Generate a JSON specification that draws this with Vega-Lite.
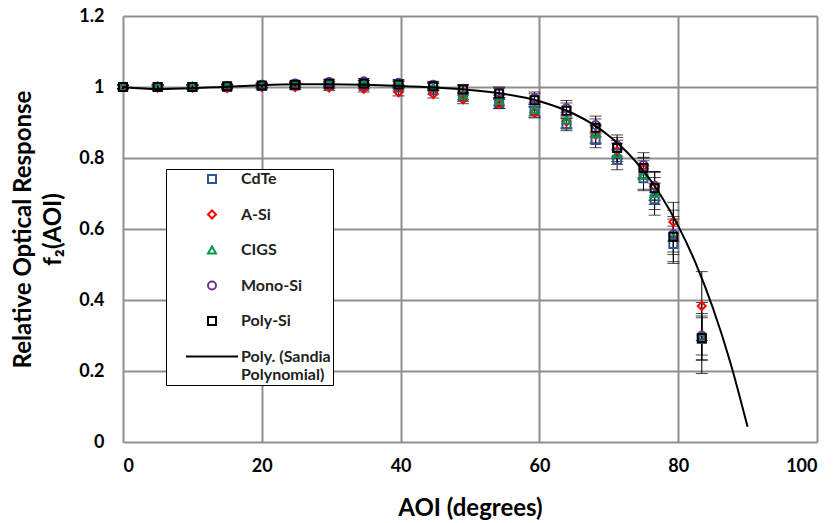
{
  "$schema": "https://vega.github.io/schema/vega-lite/v6.json",
  "width": 694,
  "height": 426,
  "autosize": {"type": "none"},
  "padding": {"left": 123, "top": 16, "right": 19, "bottom": 81},
  "background": "white",
  "config": {"font": "Lato", "view": {"stroke": null}},
  "datasets": {
    "meas": [
      {"aoi": 0, "series": "CdTe", "value": 1.0, "err": 0.005},
      {"aoi": 5, "series": "CdTe", "value": 1.0, "err": 0.005},
      {"aoi": 10, "series": "CdTe", "value": 1.0, "err": 0.005},
      {"aoi": 15, "series": "CdTe", "value": 1.0, "err": 0.005},
      {"aoi": 20, "series": "CdTe", "value": 1.003, "err": 0.006},
      {"aoi": 24.8, "series": "CdTe", "value": 1.004, "err": 0.007},
      {"aoi": 29.7, "series": "CdTe", "value": 1.004, "err": 0.008},
      {"aoi": 34.7, "series": "CdTe", "value": 1.003, "err": 0.008},
      {"aoi": 39.7, "series": "CdTe", "value": 0.998, "err": 0.009},
      {"aoi": 44.7, "series": "CdTe", "value": 0.99, "err": 0.01},
      {"aoi": 49, "series": "CdTe", "value": 0.972, "err": 0.012},
      {"aoi": 54.2, "series": "CdTe", "value": 0.955, "err": 0.015},
      {"aoi": 59.3, "series": "CdTe", "value": 0.933, "err": 0.018},
      {"aoi": 63.9, "series": "CdTe", "value": 0.895, "err": 0.018},
      {"aoi": 68.1, "series": "CdTe", "value": 0.851, "err": 0.022},
      {"aoi": 71.2, "series": "CdTe", "value": 0.795, "err": 0.028},
      {"aoi": 75.0, "series": "CdTe", "value": 0.743, "err": 0.035},
      {"aoi": 76.6, "series": "CdTe", "value": 0.684, "err": 0.045},
      {"aoi": 79.3, "series": "CdTe", "value": 0.558, "err": 0.05},
      {"aoi": 83.4, "series": "CdTe", "value": 0.29, "err": 0.06},
      {"aoi": 0, "series": "A-Si", "value": 1.0, "err": 0.005},
      {"aoi": 5, "series": "A-Si", "value": 0.998, "err": 0.005},
      {"aoi": 10, "series": "A-Si", "value": 0.998, "err": 0.005},
      {"aoi": 15, "series": "A-Si", "value": 0.997, "err": 0.005},
      {"aoi": 20, "series": "A-Si", "value": 1.0, "err": 0.006},
      {"aoi": 24.8, "series": "A-Si", "value": 1.0, "err": 0.007},
      {"aoi": 29.7, "series": "A-Si", "value": 0.998, "err": 0.008},
      {"aoi": 34.7, "series": "A-Si", "value": 0.995, "err": 0.009},
      {"aoi": 39.7, "series": "A-Si", "value": 0.985, "err": 0.01},
      {"aoi": 44.7, "series": "A-Si", "value": 0.98, "err": 0.011},
      {"aoi": 49, "series": "A-Si", "value": 0.965, "err": 0.012},
      {"aoi": 54.2, "series": "A-Si", "value": 0.952, "err": 0.013},
      {"aoi": 59.3, "series": "A-Si", "value": 0.928, "err": 0.015},
      {"aoi": 63.9, "series": "A-Si", "value": 0.902, "err": 0.02},
      {"aoi": 68.1, "series": "A-Si", "value": 0.865, "err": 0.025},
      {"aoi": 71.2, "series": "A-Si", "value": 0.82, "err": 0.03},
      {"aoi": 75.0, "series": "A-Si", "value": 0.77, "err": 0.03},
      {"aoi": 76.6, "series": "A-Si", "value": 0.72, "err": 0.04},
      {"aoi": 79.3, "series": "A-Si", "value": 0.62, "err": 0.055},
      {"aoi": 83.4, "series": "A-Si", "value": 0.383, "err": 0.097},
      {"aoi": 0, "series": "CIGS", "value": 1.0, "err": 0.005},
      {"aoi": 5, "series": "CIGS", "value": 1.002, "err": 0.005},
      {"aoi": 10, "series": "CIGS", "value": 1.002, "err": 0.005},
      {"aoi": 15, "series": "CIGS", "value": 1.003, "err": 0.005},
      {"aoi": 20, "series": "CIGS", "value": 1.005, "err": 0.006},
      {"aoi": 24.8, "series": "CIGS", "value": 1.007, "err": 0.007},
      {"aoi": 29.7, "series": "CIGS", "value": 1.008, "err": 0.008},
      {"aoi": 34.7, "series": "CIGS", "value": 1.01, "err": 0.008},
      {"aoi": 39.7, "series": "CIGS", "value": 1.008, "err": 0.009},
      {"aoi": 44.7, "series": "CIGS", "value": 1.0, "err": 0.01},
      {"aoi": 49, "series": "CIGS", "value": 0.977, "err": 0.012},
      {"aoi": 54.2, "series": "CIGS", "value": 0.962, "err": 0.015},
      {"aoi": 59.3, "series": "CIGS", "value": 0.937, "err": 0.018},
      {"aoi": 63.9, "series": "CIGS", "value": 0.907, "err": 0.022},
      {"aoi": 68.1, "series": "CIGS", "value": 0.868, "err": 0.025},
      {"aoi": 71.2, "series": "CIGS", "value": 0.812, "err": 0.03},
      {"aoi": 75.0, "series": "CIGS", "value": 0.752, "err": 0.04},
      {"aoi": 76.6, "series": "CIGS", "value": 0.7, "err": 0.045},
      {"aoi": 79.3, "series": "CIGS", "value": 0.578, "err": 0.05},
      {"aoi": 83.4, "series": "CIGS", "value": 0.297, "err": 0.065},
      {"aoi": 0, "series": "Mono-Si", "value": 1.0, "err": 0.005},
      {"aoi": 5, "series": "Mono-Si", "value": 1.001, "err": 0.005},
      {"aoi": 10, "series": "Mono-Si", "value": 1.0, "err": 0.005},
      {"aoi": 15, "series": "Mono-Si", "value": 1.003, "err": 0.005},
      {"aoi": 20, "series": "Mono-Si", "value": 1.006, "err": 0.006},
      {"aoi": 24.8, "series": "Mono-Si", "value": 1.01, "err": 0.007},
      {"aoi": 29.7, "series": "Mono-Si", "value": 1.014, "err": 0.008},
      {"aoi": 34.7, "series": "Mono-Si", "value": 1.016, "err": 0.008},
      {"aoi": 39.7, "series": "Mono-Si", "value": 1.012, "err": 0.009},
      {"aoi": 44.7, "series": "Mono-Si", "value": 1.006, "err": 0.01},
      {"aoi": 49, "series": "Mono-Si", "value": 0.995, "err": 0.012},
      {"aoi": 54.2, "series": "Mono-Si", "value": 0.985, "err": 0.015},
      {"aoi": 59.3, "series": "Mono-Si", "value": 0.968, "err": 0.018},
      {"aoi": 63.9, "series": "Mono-Si", "value": 0.94, "err": 0.022},
      {"aoi": 68.1, "series": "Mono-Si", "value": 0.893, "err": 0.025},
      {"aoi": 71.2, "series": "Mono-Si", "value": 0.835, "err": 0.03},
      {"aoi": 75.0, "series": "Mono-Si", "value": 0.78, "err": 0.035},
      {"aoi": 76.6, "series": "Mono-Si", "value": 0.722, "err": 0.04},
      {"aoi": 79.3, "series": "Mono-Si", "value": 0.585, "err": 0.05},
      {"aoi": 83.4, "series": "Mono-Si", "value": 0.3, "err": 0.055},
      {"aoi": 0, "series": "Poly-Si", "value": 1.0, "err": 0.005},
      {"aoi": 5, "series": "Poly-Si", "value": 1.0, "err": 0.005},
      {"aoi": 10, "series": "Poly-Si", "value": 1.0, "err": 0.005},
      {"aoi": 15, "series": "Poly-Si", "value": 1.002, "err": 0.005},
      {"aoi": 20, "series": "Poly-Si", "value": 1.004, "err": 0.006},
      {"aoi": 24.8, "series": "Poly-Si", "value": 1.006, "err": 0.007},
      {"aoi": 29.7, "series": "Poly-Si", "value": 1.009, "err": 0.008},
      {"aoi": 34.7, "series": "Poly-Si", "value": 1.01, "err": 0.008},
      {"aoi": 39.7, "series": "Poly-Si", "value": 1.007, "err": 0.009},
      {"aoi": 44.7, "series": "Poly-Si", "value": 1.002, "err": 0.01},
      {"aoi": 49, "series": "Poly-Si", "value": 0.993, "err": 0.012},
      {"aoi": 54.2, "series": "Poly-Si", "value": 0.982, "err": 0.015},
      {"aoi": 59.3, "series": "Poly-Si", "value": 0.963, "err": 0.018},
      {"aoi": 63.9, "series": "Poly-Si", "value": 0.933, "err": 0.022},
      {"aoi": 68.1, "series": "Poly-Si", "value": 0.885, "err": 0.025},
      {"aoi": 71.2, "series": "Poly-Si", "value": 0.828, "err": 0.03},
      {"aoi": 75.0, "series": "Poly-Si", "value": 0.772, "err": 0.03},
      {"aoi": 76.6, "series": "Poly-Si", "value": 0.715, "err": 0.046},
      {"aoi": 79.3, "series": "Poly-Si", "value": 0.578, "err": 0.075},
      {"aoi": 83.4, "series": "Poly-Si", "value": 0.293, "err": 0.1}
    ],
    "fit": [
      {"aoi": 0, "value": 1.0},
      {"aoi": 5, "value": 0.9941},
      {"aoi": 10, "value": 0.9962},
      {"aoi": 15, "value": 1.0009},
      {"aoi": 20, "value": 1.0051},
      {"aoi": 25, "value": 1.0075},
      {"aoi": 30, "value": 1.0078},
      {"aoi": 35, "value": 1.0061},
      {"aoi": 40, "value": 1.003},
      {"aoi": 45, "value": 0.9985},
      {"aoi": 50, "value": 0.9917},
      {"aoi": 55, "value": 0.9802},
      {"aoi": 60, "value": 0.9598},
      {"aoi": 65, "value": 0.9239},
      {"aoi": 67.5, "value": 0.8973},
      {"aoi": 70, "value": 0.8629},
      {"aoi": 72.5, "value": 0.819},
      {"aoi": 75, "value": 0.7636},
      {"aoi": 77.5, "value": 0.6944},
      {"aoi": 80, "value": 0.6089},
      {"aoi": 82.5, "value": 0.5044},
      {"aoi": 85, "value": 0.3775},
      {"aoi": 87.5, "value": 0.2249},
      {"aoi": 90, "value": 0.0427}
    ]
  },
  "encoding": {
    "x": {
      "field": "aoi",
      "type": "quantitative",
      "title": "AOI (degrees)",
      "scale": {"domain": [0, 100], "nice": false, "zero": false},
      "axis": {
        "values": [0, 20, 40, 60, 80, 100],
        "grid": true,
        "gridColor": "#8f8f8f",
        "gridWidth": 2,
        "domain": false,
        "ticks": false,
        "labelFontSize": 18,
        "labelFontWeight": "bold",
        "labelColor": "#000",
        "labelPadding": 15,
        "labelBaseline": "top",
        "titleFontSize": 24,
        "titleFontWeight": "bold",
        "titleColor": "#000",
        "titlePadding": 21
      }
    },
    "y": {
      "field": "value",
      "type": "quantitative",
      "title": ["Relative Optical Response", "f₂(AOI)"],
      "scale": {"domain": [0, 1.2], "nice": false, "zero": false},
      "axis": {
        "values": [0, 0.2, 0.4, 0.6, 0.8, 1, 1.2],
        "format": "~g",
        "grid": true,
        "gridColor": "#8f8f8f",
        "gridWidth": 2,
        "domain": false,
        "ticks": false,
        "labelFontSize": 18,
        "labelFontWeight": "bold",
        "labelColor": "#000",
        "labelPadding": 19,
        "titleFontSize": 24,
        "titleFontWeight": "bold",
        "titleColor": "#000",
        "titlePadding": 13,
        "titleLineHeight": 30
      }
    }
  },
  "layer": [
    {
      "data": {"name": "meas"},
      "mark": {
        "type": "errorbar",
        "color": "black",
        "ticks": {"size": 12, "color": "black"},
        "rule": {"color": "black"}
      },
      "encoding": {
        "yError": {"field": "err"}
      }
    },
    {
      "data": {"name": "meas"},
      "mark": {"type": "point", "filled": false, "size": 64, "strokeWidth": 2, "opacity": 1},
      "encoding": {
        "color": {
          "field": "series",
          "type": "nominal",
          "scale": {
            "domain": ["CdTe", "A-Si", "CIGS", "Mono-Si", "Poly-Si", "Poly. (Sandia Polynomial)"],
            "range": ["#2F5597", "#FF0000", "#00994C", "#7030A0", "#000000", "#000000"]
          },
          "legend": {
            "title": null,
            "orient": "none",
            "legendX": 43,
            "legendY": 153,
            "padding": 2,
            "strokeColor": "black",
            "fillColor": "white",
            "symbolSize": 64,
            "symbolStrokeWidth": 2,
            "symbolOffset": 36,
            "labelOffset": 21,
            "rowPadding": 19.5,
            "labelFontSize": 16,
            "labelFontWeight": "bold",
            "labelColor": "#222",
            "labelLimit": 400,
            "labelBaseline": "middle",
            "labelExpr": "datum.label == 'Poly. (Sandia Polynomial)' ? ['Poly. (Sandia\u00a0\u00a0\u00a0', 'Polynomial)'] : datum.label"
          }
        },
        "shape": {
          "field": "series",
          "type": "nominal",
          "scale": {
            "domain": ["CdTe", "A-Si", "CIGS", "Mono-Si", "Poly-Si", "Poly. (Sandia Polynomial)"],
            "range": ["square", "diamond", "triangle-up", "circle", "square", "M-6.5,0H6.5"]
          },
          "legend": {
            "title": null,
            "orient": "none",
            "legendX": 43,
            "legendY": 153,
            "padding": 2,
            "strokeColor": "black",
            "fillColor": "white",
            "symbolSize": 64,
            "symbolStrokeWidth": 2,
            "symbolOffset": 36,
            "labelOffset": 21,
            "rowPadding": 19.5,
            "labelFontSize": 16,
            "labelFontWeight": "bold",
            "labelColor": "#222",
            "labelLimit": 400,
            "labelBaseline": "middle",
            "labelExpr": "datum.label == 'Poly. (Sandia Polynomial)' ? ['Poly. (Sandia\u00a0\u00a0\u00a0', 'Polynomial)'] : datum.label"
          }
        }
      }
    },
    {
      "data": {"name": "fit"},
      "mark": {"type": "line", "color": "black", "strokeWidth": 2, "interpolate": "monotone"},
      "encoding": {}
    }
  ]
}
